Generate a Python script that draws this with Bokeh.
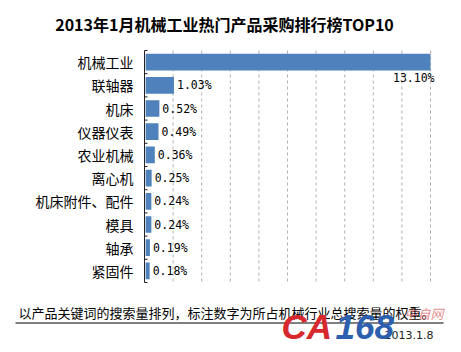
from bokeh.plotting import figure
from bokeh.models import Range1d, ColumnDataSource
from bokeh.embed import file_html
from bokeh.resources import INLINE
from bokeh.core.properties import value
import numpy as np

# ---- data ----
categories = ["机械工业", "联轴器", "机床", "仪器仪表", "农业机械",
              "离心机", "机床附件、配件", "模具", "轴承", "紧固件"]
shares = [13.10, 1.03, 0.52, 0.49, 0.36, 0.25, 0.24, 0.24, 0.19, 0.18]
share_labels = ["13.10%", "1.03%", "0.52%", "0.49%", "0.36%",
                "0.25%", "0.24%", "0.24%", "0.19%", "0.18%"]
axis_max = 10
grid_ticks = list(range(0, 11))
title_text = "2013年1月机械工业热门产品采购排行榜TOP10"
note_text = "以产品关键词的搜索量排列，标注数字为所占机械行业总搜索量的权重。"
date_text = "2013.1.8"

# ---- layout constants (canvas pixels) ----
W, H = 461, 352
PLOT_LEFT, PLOT_TOP = 144, 50
PX_PER_UNIT = 28.6      # horizontal pixels per percentage point
ROW_H = 23.2            # pixels per category row

def cx(px):
    return (px - PLOT_LEFT) / PX_PER_UNIT

def cy(py):
    return (py - PLOT_TOP) / ROW_H

CJK = "Noto Sans CJK SC"
BAR = "#4F81BD"
n = len(categories)
rows = np.arange(n) + 0.5

vals = np.array(shares)
over = vals > axis_max
src_bar = ColumnDataSource(dict(y=rows, right=np.minimum(vals, axis_max)))
src_in = ColumnDataSource(dict(y=rows[~over], v=vals[~over],
                               label=[l for l, o in zip(share_labels, over) if not o]))
src_over = ColumnDataSource(dict(y=rows[over], v=np.full(int(over.sum()), axis_max),
                                 label=[l for l, o in zip(share_labels, over) if o]))
src_cat = ColumnDataSource(dict(y=rows, cat=categories))

p = figure(width=W, height=H,
           x_range=Range1d(cx(0), cx(W)), y_range=Range1d(cy(H), cy(0)),
           output_backend="svg", toolbar_location=None, min_border=0)
p.axis.visible = False
p.grid.visible = False
p.outline_line_color = None
p.background_fill_color = "white"
p.border_fill_color = "white"

# dashed vertical gridlines
p.segment(x0=grid_ticks[1:], y0=0, x1=grid_ticks[1:], y1=n,
          line_color="#b0b0b0", line_dash="3 3", line_width=1)

# bars
p.hbar(y="y", left=0.04, right="right", height=0.72, source=src_bar,
       fill_color=BAR, line_color=None)

# category axis line and inward ticks
p.segment(x0=[0], y0=[0], x1=[0], y1=[n], line_color="#222222", line_width=1)
p.segment(x0=0, y0=np.arange(n + 1), x1=3 / PX_PER_UNIT, y1=np.arange(n + 1),
          line_color="#222222", line_width=1)

# category labels
p.text(x=cx(133), y="y", text="cat", source=src_cat, text_align="right",
       text_baseline="middle", text_font=value(CJK), text_font_size="14px",
       text_color="black")

# value labels
p.text(x="v", y="y", text="label", source=src_in, x_offset=3,
       text_align="left", text_baseline="middle",
       text_font=value("DejaVu Sans Mono"), text_font_size="11.5px",
       text_color="black")
p.text(x="v", y="y", text="label", source=src_over, x_offset=4, y_offset=16,
       text_align="right", text_baseline="middle",
       text_font=value("DejaVu Sans Mono"), text_font_size="11.5px",
       text_color="black")

# title
p.text(x=[cx(224)], y=[cy(23)], text=[title_text], text_align="center",
       text_baseline="middle", text_font=value(CJK), text_font_size="16px",
       text_font_style="bold", text_color="black")

# footer
p.text(x=[cx(18)], y=[cy(312)], text=[note_text], text_baseline="middle",
       text_font=value(CJK), text_font_size="13px", text_color="black")
p.segment(x0=[cx(15)], y0=[cy(322.5)], x1=[cx(443)], y1=[cy(322.5)],
          line_color="black", line_width=1)
p.text(x=[cx(384)], y=[cy(334)], text=[date_text], text_baseline="middle",
       text_font=value("DejaVu Sans"), text_font_size="11px", text_color="#222222")
p.text(x=[cx(281)], y=[cy(326)], text=["CA"], text_baseline="middle",
       text_font=value("Liberation Sans"), text_font_size="35px",
       text_font_style="bold italic", text_color="#d7282d")
p.text(x=[cx(335)], y=[cy(326)], text=["168"], text_baseline="middle",
       text_font=value("Liberation Sans"), text_font_size="35px",
       text_font_style="bold italic", text_color="#2c5fae")
p.text(x=[cx(404)], y=[cy(313)], text=["中自网"], text_baseline="middle",
       text_font=value(CJK), text_font_size="13px", text_font_style="italic",
       text_color="#e07070", text_alpha=0.8)

open("out.html", "w").write(file_html(p, INLINE))
